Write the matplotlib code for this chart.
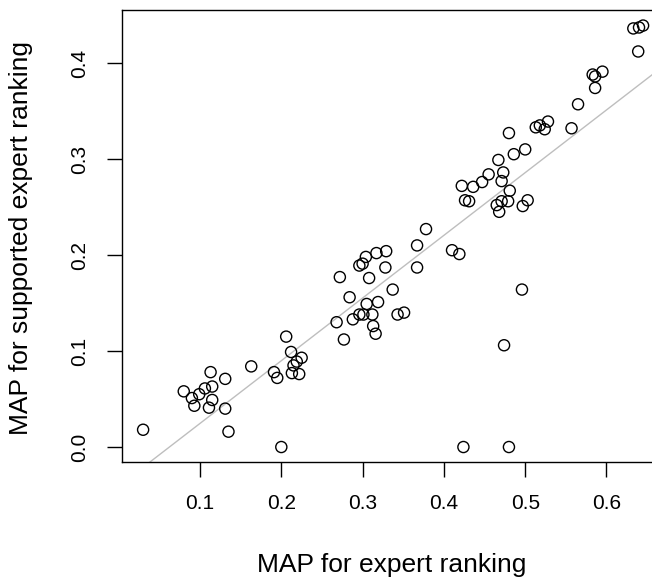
import numpy as np
import matplotlib
matplotlib.use("Agg")
import matplotlib.pyplot as plt

# MAP values per query: expert ranking (x) vs supported expert ranking (y)
map_expert = [
    0.030, 0.135, 0.080, 0.090, 0.093, 0.099, 0.106, 0.115, 0.113, 0.115,
    0.111, 0.131, 0.131, 0.163,
    0.206, 0.191, 0.195, 0.212, 0.225, 0.219, 0.215, 0.213, 0.222, 0.200,
    0.268, 0.277, 0.272, 0.284, 0.288, 0.296, 0.301, 0.305, 0.312, 0.313,
    0.316, 0.319, 0.296, 0.300, 0.304, 0.317, 0.329, 0.328, 0.308, 0.337,
    0.343, 0.351, 0.367, 0.367, 0.378, 0.410, 0.419,
    0.422, 0.436, 0.447, 0.455, 0.467, 0.473, 0.471, 0.426, 0.431, 0.481,
    0.465, 0.471, 0.479, 0.468, 0.497, 0.503, 0.480, 0.486, 0.500, 0.513,
    0.518, 0.524, 0.528, 0.557, 0.565, 0.583, 0.586, 0.595, 0.586, 0.633,
    0.640, 0.645, 0.639, 0.496, 0.474, 0.424, 0.480,
]
map_supported = [
    0.018, 0.016, 0.058, 0.051, 0.043, 0.055, 0.061, 0.063, 0.078, 0.049,
    0.041, 0.071, 0.040, 0.084,
    0.115, 0.078, 0.072, 0.099, 0.093, 0.089, 0.085, 0.077, 0.076, 0.000,
    0.130, 0.112, 0.177, 0.156, 0.133, 0.138, 0.138, 0.149, 0.138, 0.126,
    0.118, 0.151, 0.189, 0.191, 0.198, 0.202, 0.204, 0.187, 0.176, 0.164,
    0.138, 0.140, 0.210, 0.187, 0.227, 0.205, 0.201,
    0.272, 0.271, 0.276, 0.284, 0.299, 0.286, 0.277, 0.257, 0.256, 0.267,
    0.252, 0.256, 0.256, 0.245, 0.251, 0.257, 0.327, 0.305, 0.310, 0.333,
    0.335, 0.331, 0.339, 0.332, 0.357, 0.388, 0.386, 0.391, 0.374, 0.436,
    0.437, 0.439, 0.412, 0.164, 0.106, 0.000, 0.000,
]

# fitted reference line (abline)
line_intercept = -0.0407
line_slope = 0.653

x_ticks = [0.1, 0.2, 0.3, 0.4, 0.5, 0.6]
y_ticks = [0.0, 0.1, 0.2, 0.3, 0.4]

plt.rcParams["font.family"] = ["Liberation Sans", "DejaVu Sans"]

W, H = 652, 578
fig = plt.figure(figsize=(W / 100, H / 100), dpi=100)

# plot box in pixels (R-style, right edge falls outside the picture)
left_px, right_px, top_px, bottom_px = 122.3, 663.0, 10.0, 462.0
ax = fig.add_axes([left_px / W, 1 - bottom_px / H,
                   (right_px - left_px) / W, (bottom_px - top_px) / H])

ax.scatter(map_expert, map_supported, s=64, facecolors="none",
           edgecolors="black", linewidths=1.0, zorder=3)

xs = np.array([-0.1, 1.0])
ax.plot(xs, line_intercept + line_slope * xs, color="#bebebe", lw=1.0, zorder=2)

ax.set_xlim(0.0044, 0.6695)
ax.set_ylim(-0.0156, 0.4552)

ax.set_xticks(x_ticks)
ax.set_xticklabels([f"{v:.1f}" for v in x_ticks])
ax.set_yticks(y_ticks)
ax.set_yticklabels([f"{v:.1f}" for v in y_ticks], rotation=90, va="center")

ax.tick_params(axis="both", direction="out", length=11, width=1.0,
               labelsize=15, color="black")
ax.tick_params(axis="x", pad=12)
ax.tick_params(axis="y", pad=13)

for sp in ax.spines.values():
    sp.set_linewidth(1.0)
    sp.set_color("black")

ax.set_xlabel("MAP for expert ranking", fontsize=19)
ax.set_ylabel("MAP for supported expert ranking", fontsize=19)
ax_w = right_px - left_px
ax_h = bottom_px - top_px
ax.xaxis.set_label_coords((392 - left_px) / ax_w, (bottom_px - 553) / ax_h)
ax.yaxis.set_label_coords((33 - left_px) / ax_w, (bottom_px - 238) / ax_h)

fig.savefig("out.png", dpi=100)
